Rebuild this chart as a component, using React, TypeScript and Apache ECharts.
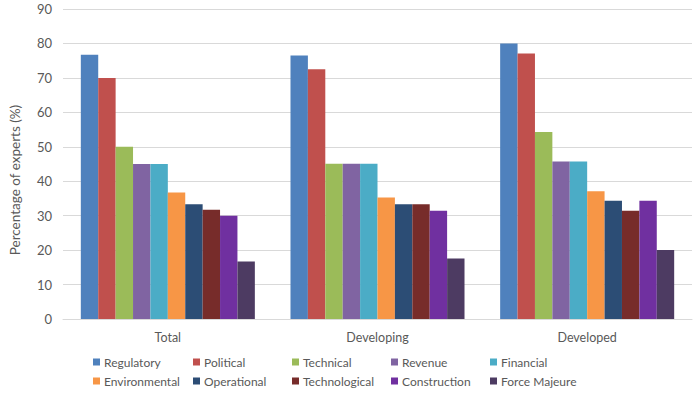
import React, { useEffect, useRef } from "react";
import * as echarts from "echarts";

const categories = ["Total", "Developing", "Developed"];
const seriesNames = [
  "Regulatory", "Political", "Technical", "Revenue", "Financial",
  "Environmental", "Operational", "Technological", "Construction", "Force Majeure",
];
const regulatory = [76.7, 76.5, 80];
const political = [70, 72.5, 77.1];
const technical = [50, 45.1, 54.3];
const revenue = [45, 45.1, 45.7];
const financial = [45, 45.1, 45.7];
const environmental = [36.7, 35.3, 37.1];
const operational = [33.3, 33.3, 34.3];
const technological = [31.7, 33.3, 31.4];
const construction = [30, 31.4, 34.3];
const forceMajeure = [16.7, 17.6, 20];
const yTicks = [0, 10, 20, 30, 40, 50, 60, 70, 80, 90];
const yAxisTitle = "Percentage of experts (%)";

const values = [regulatory, political, technical, revenue, financial, environmental, operational, technological, construction, forceMajeure];
const colors = ["#4F81BD", "#C0504D", "#9BBB59", "#8064A2", "#4BACC6", "#F79646", "#2C4D75", "#772C2A", "#7030A0", "#4D3B62"];

export default function App() {
  const ref = useRef<HTMLDivElement>(null);
  useEffect(() => {
    document.body.style.margin = "0";
    const chart = echarts.init(ref.current!, null, { renderer: "svg" });
    const font = "Lato, 'Open Sans', sans-serif";
    const colX = [93, 193, 292, 391, 490];
    const rowY = [356, 375];
    const legends = seriesNames.map((n, i) => ({
      data: [n],
      left: colX[i % 5],
      top: rowY[Math.floor(i / 5)],
      itemWidth: 7,
      itemHeight: 7,
      icon: "rect",
      padding: 0,
      itemGap: 0,
      textStyle: { color: "#595959", fontSize: 12, fontFamily: font, padding: [0, 0, 0, -1] },
    }));
    chart.setOption({
      animation: false,
      color: colors,
      grid: { left: 63, right: 8, top: 9, bottom: 79 },
      legend: legends,
      graphic: [
        {
          type: "text",
          x: 15,
          y: 180,
          rotation: Math.PI / 2,
          style: {
            text: yAxisTitle,
            fill: "#595959",
            fontSize: 13.5,
            fontFamily: font,
            align: "center",
            verticalAlign: "middle",
          },
        },
      ],
      xAxis: {
        type: "category",
        data: categories,
        axisLine: { lineStyle: { color: "#d9d9d9" } },
        axisTick: { show: false },
        axisLabel: { color: "#595959", fontSize: 12.5, fontFamily: font, margin: 12 },
      },
      yAxis: {
        type: "value",
        min: yTicks[0],
        max: yTicks[yTicks.length - 1],
        interval: 10,
        axisLine: { show: false },
        axisTick: { show: false },
        axisLabel: { color: "#595959", fontSize: 13, fontFamily: font, margin: 11 },
        splitLine: { lineStyle: { color: "#d9d9d9" } },
      },
      series: seriesNames.map((n, i) => ({
        name: n,
        type: "bar",
        data: values[i],
        barGap: "0%",
        barCategoryGap: "17%",
      })),
    });
    return () => chart.dispose();
  }, []);
  return <div ref={ref} style={{ width: 700, height: 398 }} />;
}
